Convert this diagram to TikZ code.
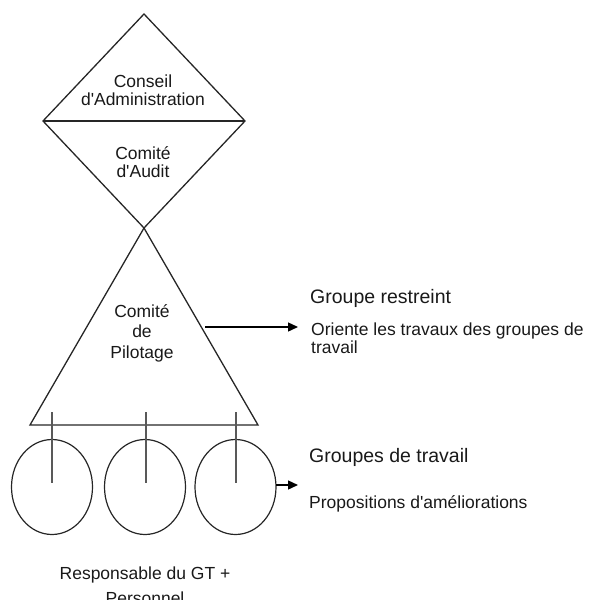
\documentclass[tikz,border=0pt]{standalone}
\usepackage{fontspec}
\setmainfont{Liberation Sans}
\usetikzlibrary{arrows.meta}
\newcommand{\apos}{\textquotesingle}
\begin{document}
\begin{tikzpicture}[x=1pt,y=-1pt,
  shapeline/.style={draw=black!85, line width=1.3pt, line join=miter},
  tickline/.style={draw=black!65, line width=1.8pt},
  txt/.style={inner sep=0pt, anchor=base, text=black!90, font=\fontsize{17.5}{18}\selectfont, align=center},
  lefttxt/.style={inner sep=0pt, anchor=base west, text=black!90, font=\fontsize{17.5}{18}\selectfont, align=left},
  headtxt/.style={inner sep=0pt, anchor=base west, text=black!90, font=\fontsize{19.5}{20}\selectfont},
  arr/.style={draw=black, line width=1.4pt, -{Triangle[length=10pt,width=9pt]}}
]
\useasboundingbox (0,0) rectangle (593,600);

% diamond (Conseil / Comite d'Audit)
\coordinate (dT) at (144,14);
\coordinate (dL) at (43,121);
\coordinate (dR) at (245,121);
\coordinate (dB) at (144,228);
\draw[shapeline] (dT) -- (dR) -- (dB) -- (dL) -- cycle;
\draw[shapeline] (dL) -- (dR);

% triangle (Comite de Pilotage)
\coordinate (tL) at (30,425);
\coordinate (tR) at (258,425);
\draw[shapeline] (dB) -- (tR) -- (tL) -- cycle;

% working groups
\foreach \i/\cx in {1/52,2/145,3/235.5}{
  \draw[draw=black!85, line width=1.2pt] (\cx,487) ellipse [x radius=40.5, y radius=47.5];
  \coordinate (g\i) at (\cx,487);
}
\foreach \i/\cx in {1/52,2/146,3/236}{
  \coordinate (k\i top) at (\cx,412);
  \coordinate (k\i bot) at (\cx,483);
  \draw[tickline] (k\i top) -- (k\i bot);
}

% texts (base anchor = baseline of the last line)
\node[txt] (ca) at (143,105) {Conseil\\d\apos Administration};
\node[txt] (cau) at (143,177) {Comité\\d\apos Audit};
\node[txt, font=\fontsize{17.5}{20.5}\selectfont] (cp) at (142,358) {Comité\\de\\Pilotage};
\node[headtxt] (gr) at (310,303) {Groupe restreint};
\node[lefttxt] (or) at (311,353) {Oriente les travaux des groupes de\\travail};
\node[headtxt] (gt) at (309,462) {Groupes de travail};
\node[lefttxt] (pa) at (309,508) {Propositions d\apos améliorations};
\node[txt, font=\fontsize{17.5}{25}\selectfont] (rp) at (145,604) {Responsable du GT +\\Personnel};

% arrows
\coordinate (a1s) at (205,327);
\coordinate (a1e) at (298,327);
\draw[arr] (a1s) -- (a1e);
\coordinate (a2s) at (276,485);
\coordinate (a2e) at (298,485);
\draw[arr] (a2s) -- (a2e);
\end{tikzpicture}
\end{document}
